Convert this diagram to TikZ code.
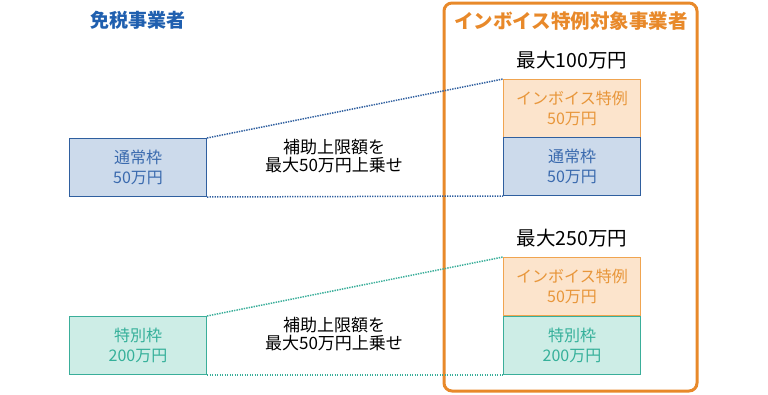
\documentclass[tikz,border=0pt]{standalone}
\usepackage{fontspec}
\setmainfont{Noto Sans CJK JP}
\definecolor{bluefill}{HTML}{CCDAEB}
\definecolor{blueline}{HTML}{2F5F9F}
\definecolor{bluetext}{HTML}{3A6AAE}
\definecolor{orfill}{HTML}{FCE4CC}
\definecolor{orline}{HTML}{F0A450}
\definecolor{ortext}{HTML}{E8963A}
\definecolor{tlfill}{HTML}{CDEDE6}
\definecolor{tlline}{HTML}{3AAE9A}
\definecolor{tltext}{HTML}{35B09A}
\definecolor{frame}{HTML}{E8892A}
\definecolor{titleblue}{HTML}{1F5FAF}
\tikzset{
  boxbase/.style={draw, line width=1pt, minimum width=137pt, minimum height=58pt, inner sep=0pt, align=center, font=\fontsize{16}{19.5}\selectfont, anchor=north west},
  bluebox/.style={boxbase, fill=bluefill, draw=blueline, text=bluetext},
  orbox/.style={boxbase, fill=orfill, draw=orline, text=ortext},
  tlbox/.style={boxbase, fill=tlfill, draw=tlline, text=tltext},
  dotline/.style={line width=1.5pt, dash pattern=on 1.4pt off 1.1pt},
  midtext/.style={align=center, font=\fontsize{17}{18.5}\selectfont},
  captext/.style={font=\fontsize{19.5}{21}\selectfont},
}
\begin{document}
\begin{tikzpicture}[x=1pt,y=-1pt]
\useasboundingbox (0,0) rectangle (768,394);
% frame
\draw[frame, line width=3pt, rounded corners=8pt] (444,3) rectangle (697,391);
\node[font=\bfseries\fontsize{19.5}{22}\selectfont, text=frame] (ftitle) at (571,21) {インボイス特例対象事業者};
\node[font=\bfseries\fontsize{19}{22}\selectfont, text=titleblue] (ltitle) at (138,20) {免税事業者};
% top group
\node[captext] (cap1) at (572,60) {最大100万円};
\node[orbox] (o1) at (503,79) {インボイス特例\\50万円};
\node[bluebox] (b1) at (503,137) {通常枠\\50万円};
\node[bluebox] (l1) at (69,138) {通常枠\\50万円};
\draw[dotline, blueline] (l1.north east) -- (o1.north west);
\draw[dotline, blueline] (l1.south east) -- (b1.south west);
\node[midtext] (m1) at (334,156) {補助上限額を\\最大50万円上乗せ};
% bottom group
\node[captext] (cap2) at (572,238) {最大250万円};
\node[orbox] (o2) at (503,257) {インボイス特例\\50万円};
\node[tlbox] (t2) at (503,316) {特別枠\\200万円};
\node[tlbox] (l2) at (69,316) {特別枠\\200万円};
\draw[dotline, tlline] (l2.north east) -- (o2.north west);
\draw[dotline, tlline] (l2.south east) -- (t2.south west);
\node[midtext] (m2) at (334,334) {補助上限額を\\最大50万円上乗せ};
\end{tikzpicture}
\end{document}
